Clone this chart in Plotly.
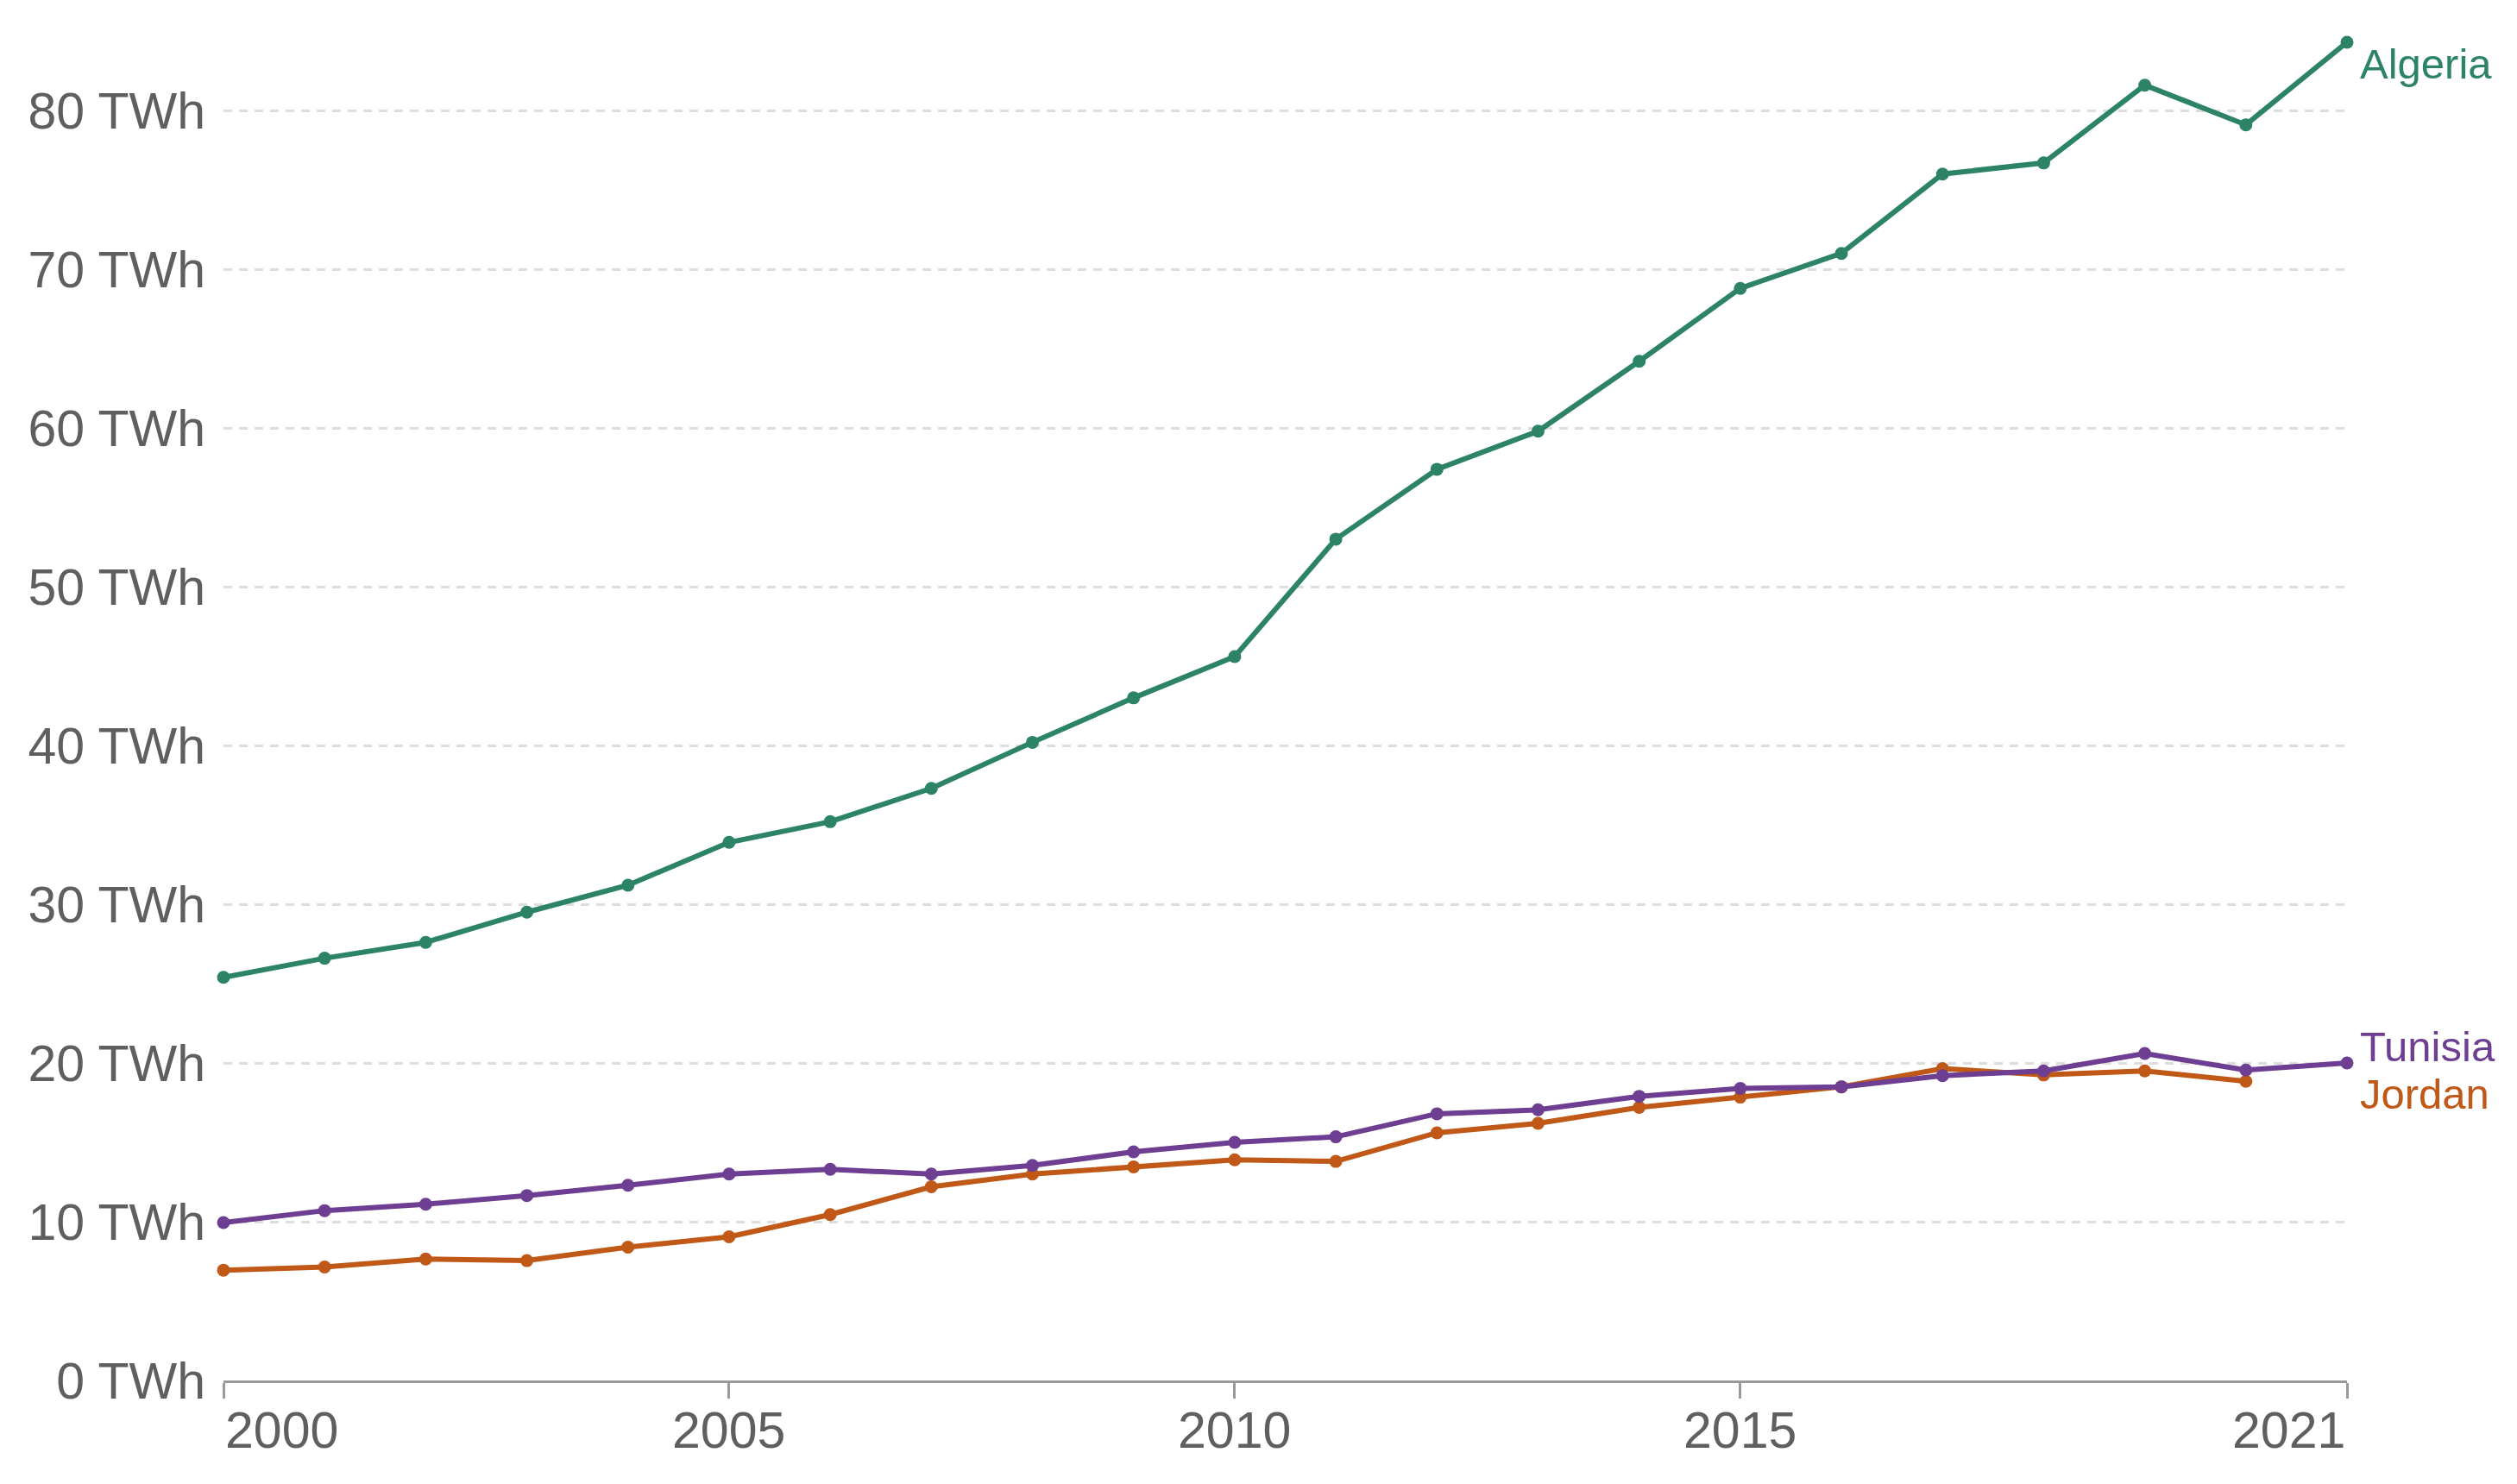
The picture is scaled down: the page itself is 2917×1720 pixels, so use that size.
import plotly.graph_objects as go

years = list(range(2000, 2022))
algeria = [25.4, 26.6, 27.6, 29.5, 31.2, 33.9, 35.2, 37.3, 40.2, 43.0, 45.6,
           53.0, 57.4, 59.8, 64.2, 68.8, 71.0, 76.0, 76.7, 81.6, 79.1, 84.3]
tunisia = [9.95, 10.7, 11.1, 11.65, 12.3, 13.0, 13.3, 13.0, 13.55, 14.4, 15.0,
           15.35, 16.8, 17.05, 17.9, 18.4, 18.5, 19.2, 19.5, 20.6, 19.55, 20.0]
jordan_years = list(range(2000, 2021))
jordan = [6.95, 7.15, 7.65, 7.55, 8.4, 9.05, 10.45, 12.2, 13.0, 13.45, 13.9,
          13.8, 15.6, 16.2, 17.2, 17.85, 18.5, 19.65, 19.25, 19.5, 18.85]

x_tick_vals = [2000, 2005, 2010, 2015, 2021]
y_tick_vals = [0, 10, 20, 30, 40, 50, 60, 70, 80]

series = [
    ("Jordan", jordan_years, jordan, "#C05917"),
    ("Tunisia", years, tunisia, "#6D3E91"),
    ("Algeria", years, algeria, "#2C8465"),
]
label_shift = {"Algeria": -25, "Tunisia": 19, "Jordan": -36}

FONT = "Liberation Sans, Arial, sans-serif"
AXIS_COLOR = "#5f5f5f"
fig = go.Figure()
for name, xs, ys, color in series:
    fig.add_trace(go.Scatter(
        x=xs, y=ys, name=name, mode="lines+markers",
        line=dict(color=color, width=6),
        marker=dict(color=color, size=15),
        cliponaxis=False, showlegend=False,
    ))

annotations = []
for i, t in enumerate(x_tick_vals):
    anchor = "left" if i == 0 else ("right" if i == len(x_tick_vals) - 1 else "center")
    annotations.append(dict(
        x=t, y=0, xref="x", yref="paper", text=str(t), showarrow=False,
        xanchor=anchor, yanchor="middle", yshift=-58,
        font=dict(family=FONT, size=59, color=AXIS_COLOR),
    ))

# end labels, placed next to the last point of the series
ends = {"Algeria": algeria[-1], "Tunisia": tunisia[-1], "Jordan": tunisia[-1]}
for name, xs, ys, color in series:
    annotations.append(dict(
        x=years[-1], y=ends[name], xref="x", yref="y", text=name,
        showarrow=False, xanchor="left", yanchor="middle",
        xshift=13, yshift=label_shift[name],
        font=dict(family=FONT, size=49, color=color),
    ))

fig.update_layout(
    width=2909, height=1712,
    margin=dict(l=251, r=197, t=41, b=120, pad=0),
    paper_bgcolor="white", plot_bgcolor="white",
    font=dict(family=FONT, size=59, color=AXIS_COLOR),
    annotations=annotations,
)
fig.update_xaxes(
    range=[2000, 2021], tickvals=x_tick_vals, showticklabels=False,
    showgrid=False, zeroline=False,
    showline=True, linecolor="#9a9a9a", linewidth=3,
    ticks="outside", ticklen=18, tickwidth=3, tickcolor="#9a9a9a",
)
fig.update_yaxes(
    range=[0, max(algeria)], tickvals=y_tick_vals,
    ticktext=[f"{v} TWh" for v in y_tick_vals],
    showgrid=True, gridcolor="#dddddd", gridwidth=3, griddash="10px,8px",
    zeroline=False, showline=False, ticks="",
    ticklabelstandoff=20,
    tickfont=dict(family=FONT, size=59, color=AXIS_COLOR),
)

fig.write_html("out.html")
